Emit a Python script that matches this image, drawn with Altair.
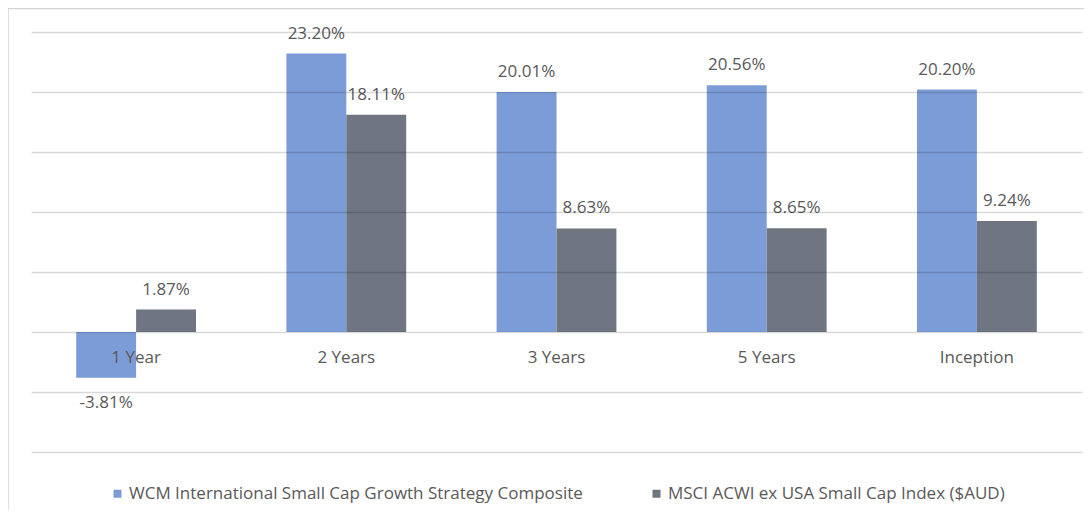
import altair as alt
import pandas as pd

categories = ["1 Year", "2 Years", "3 Years", "5 Years", "Inception"]
series = [
    "WCM International Small Cap Growth Strategy Composite",
    "MSCI ACWI ex USA Small Cap Index ($AUD)",
]
wcm = [-3.81, 23.20, 20.01, 20.56, 20.20]
msci = [1.87, 18.11, 8.63, 8.65, 9.24]
colors = ["#7C9CD7", "#6F7681"]
grid_values = [-10, -5, 0, 5, 10, 15, 20, 25]

rows = []
for name, vals in zip(series, [wcm, msci]):
    for c, v in zip(categories, vals):
        rows.append({"period": c, "series": name, "value": v, "label": f"{v:.2f}%"})
df = pd.DataFrame(rows)
cat_df = pd.DataFrame({"period": categories, "value": [0] * len(categories)})

W, H = 1051, 420
FONT = "Open Sans"
TXT = "#595959"
FS = 17

xscale = alt.Scale(domain=categories, paddingInner=0.43, paddingOuter=0.215, round=False)
x = alt.X("period:N", sort=categories, scale=xscale, axis=None)
xo = alt.XOffset("series:N", sort=series,
                 scale=alt.Scale(domain=series, paddingInner=0, paddingOuter=0, round=False))
y = alt.Y("value:Q", scale=alt.Scale(domain=[-10, 25], nice=False, zero=False),
          axis=alt.Axis(values=grid_values, labels=False, ticks=False, domain=False,
                        grid=True, gridColor="#000000", gridOpacity=0.15, gridWidth=1.3,
                        title=None, zindex=1))

base = alt.Chart(df)

bars = base.mark_bar().encode(
    x=x, xOffset=xo, y=y,
    color=alt.Color("series:N", sort=series,
                    scale=alt.Scale(domain=series, range=colors),
                    legend=alt.Legend(orient="none", legendX=78, legendY=453,
                                      direction="horizontal", title=None,
                                      symbolType="square", symbolSize=64,
                                      symbolStrokeWidth=0,
                                      labelFontSize=FS, labelFont=FONT, labelColor=TXT,
                                      labelOffset=3, columnPadding=65, labelLimit=0)),
)

pos_labels = base.transform_filter("datum.value >= 0").mark_text(
    baseline="middle", dy=-20, fontSize=FS, font=FONT, color=TXT
).encode(x=x, xOffset=xo, y=alt.Y("value:Q"), text="label:N")

neg_labels = base.transform_filter("datum.value < 0").mark_text(
    baseline="middle", dy=25, fontSize=FS, font=FONT, color=TXT
).encode(x=x, xOffset=xo, y=alt.Y("value:Q"), text="label:N")

cat_labels = alt.Chart(cat_df).mark_text(
    baseline="middle", dy=26, fontSize=FS, font=FONT, color=TXT
).encode(x=alt.X("period:N", sort=categories, scale=xscale), y=alt.Y("value:Q"), text="period:N")

frame_df = pd.DataFrame({"k": [0]})
frame_left = alt.Chart(frame_df).mark_rule(color="#d4d4d4", strokeWidth=1.5).encode(
    x=alt.value(-23), y=alt.value(-23), y2=alt.value(H + 58))
frame_top = alt.Chart(frame_df).mark_rule(color="#d4d4d4", strokeWidth=1.5).encode(
    x=alt.value(-23), x2=alt.value(W + 2), y=alt.value(-23.5))

chart = alt.layer(bars, pos_labels, neg_labels, cat_labels, frame_left, frame_top).properties(
    width=W, height=H,
    autosize=alt.AutoSizeParams(type="none"),
    padding={"left": 23, "top": 24, "right": 2, "bottom": 58},
    background="white",
).configure_view(stroke=None)

chart.save("out.html", embed_options={"renderer": "svg", "actions": False})
